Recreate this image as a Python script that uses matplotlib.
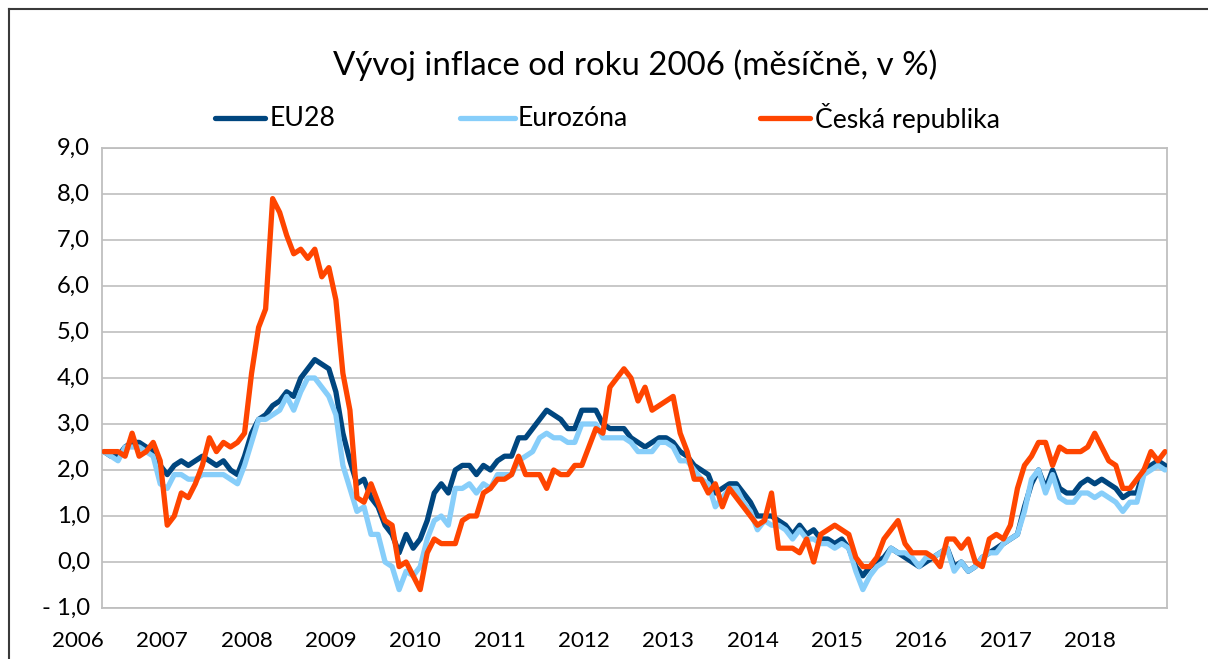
import matplotlib
matplotlib.use("Agg")
import matplotlib.pyplot as plt
from matplotlib.lines import Line2D
import numpy as np

# ---------------- data (monthly, Jan 2006 - Aug 2018) ----------------
series_names = ["EU28", "Eurozóna", "Česká republika"]
year_labels = [str(y) for y in range(2006, 2019)]

eu28 = [
    2.4, 2.3, 2.3, 2.5, 2.6, 2.6, 2.5, 2.4, 2.1, 1.9, 2.1, 2.2,   # 2006
    2.1, 2.2, 2.3, 2.2, 2.1, 2.2, 2.0, 1.9, 2.3, 2.8, 3.1, 3.2,   # 2007
    3.4, 3.5, 3.7, 3.6, 4.0, 4.2, 4.4, 4.3, 4.2, 3.7, 2.8, 2.2,   # 2008
    1.7, 1.8, 1.4, 1.2, 0.8, 0.6, 0.2, 0.6, 0.3, 0.5, 0.9, 1.5,   # 2009
    1.7, 1.5, 2.0, 2.1, 2.1, 1.9, 2.1, 2.0, 2.2, 2.3, 2.3, 2.7,   # 2010
    2.7, 2.9, 3.1, 3.3, 3.2, 3.1, 2.9, 2.9, 3.3, 3.3, 3.3, 3.0,   # 2011
    2.9, 2.9, 2.9, 2.7, 2.6, 2.5, 2.6, 2.7, 2.7, 2.6, 2.4, 2.3,   # 2012
    2.1, 2.0, 1.9, 1.5, 1.6, 1.7, 1.7, 1.5, 1.3, 1.0, 1.0, 1.0,   # 2013
    0.9, 0.8, 0.6, 0.8, 0.6, 0.7, 0.5, 0.5, 0.4, 0.5, 0.3, -0.1,  # 2014
    -0.3, -0.1, 0.0, 0.1, 0.3, 0.2, 0.1, 0.0, -0.1, 0.0, 0.1, 0.2,  # 2015
    0.3, -0.1, 0.0, -0.2, -0.1, 0.1, 0.2, 0.3, 0.4, 0.5, 0.6, 1.2,  # 2016
    1.7, 2.0, 1.6, 2.0, 1.6, 1.5, 1.5, 1.7, 1.8, 1.7, 1.8, 1.7,   # 2017
    1.6, 1.4, 1.5, 1.5, 2.0, 2.1, 2.2, 2.1,                       # 2018
]

eurozona = [
    2.4, 2.3, 2.2, 2.5, 2.5, 2.5, 2.4, 2.3, 1.7, 1.6, 1.9, 1.9,   # 2006
    1.8, 1.8, 1.9, 1.9, 1.9, 1.9, 1.8, 1.7, 2.1, 2.6, 3.1, 3.1,   # 2007
    3.2, 3.3, 3.6, 3.3, 3.7, 4.0, 4.0, 3.8, 3.6, 3.2, 2.1, 1.6,   # 2008
    1.1, 1.2, 0.6, 0.6, 0.0, -0.1, -0.6, -0.2, -0.3, -0.1, 0.5, 0.9,  # 2009
    1.0, 0.8, 1.6, 1.6, 1.7, 1.5, 1.7, 1.6, 1.9, 1.9, 1.9, 2.2,   # 2010
    2.3, 2.4, 2.7, 2.8, 2.7, 2.7, 2.6, 2.6, 3.0, 3.0, 3.0, 2.7,   # 2011
    2.7, 2.7, 2.7, 2.6, 2.4, 2.4, 2.4, 2.6, 2.6, 2.5, 2.2, 2.2,   # 2012
    2.0, 1.8, 1.7, 1.2, 1.4, 1.6, 1.6, 1.3, 1.1, 0.7, 0.9, 0.8,   # 2013
    0.8, 0.7, 0.5, 0.7, 0.5, 0.5, 0.4, 0.4, 0.3, 0.4, 0.3, -0.2,  # 2014
    -0.6, -0.3, -0.1, 0.0, 0.3, 0.2, 0.2, 0.1, -0.1, 0.1, 0.1, 0.2,  # 2015
    0.3, -0.2, 0.0, -0.2, -0.1, 0.1, 0.2, 0.2, 0.4, 0.5, 0.6, 1.1,  # 2016
    1.8, 2.0, 1.5, 1.9, 1.4, 1.3, 1.3, 1.5, 1.5, 1.4, 1.5, 1.4,   # 2017
    1.3, 1.1, 1.3, 1.3, 1.9, 2.0, 2.1, 2.0,                       # 2018
]

ceska_republika = [
    2.4, 2.4, 2.4, 2.3, 2.8, 2.3, 2.4, 2.6, 2.2, 0.8, 1.0, 1.5,   # 2006
    1.4, 1.7, 2.1, 2.7, 2.4, 2.6, 2.5, 2.6, 2.8, 4.1, 5.1, 5.5,   # 2007
    7.9, 7.6, 7.1, 6.7, 6.8, 6.6, 6.8, 6.2, 6.4, 5.7, 4.1, 3.3,   # 2008
    1.4, 1.3, 1.7, 1.3, 0.9, 0.8, -0.1, 0.0, -0.3, -0.6, 0.2, 0.5,  # 2009
    0.4, 0.4, 0.4, 0.9, 1.0, 1.0, 1.5, 1.6, 1.8, 1.8, 1.9, 2.3,   # 2010
    1.9, 1.9, 1.9, 1.6, 2.0, 1.9, 1.9, 2.1, 2.1, 2.5, 2.9, 2.8,   # 2011
    3.8, 4.0, 4.2, 4.0, 3.5, 3.8, 3.3, 3.4, 3.5, 3.6, 2.8, 2.4,   # 2012
    1.8, 1.8, 1.5, 1.7, 1.2, 1.6, 1.4, 1.2, 1.0, 0.8, 0.9, 1.5,   # 2013
    0.3, 0.3, 0.3, 0.2, 0.5, 0.0, 0.6, 0.7, 0.8, 0.7, 0.6, 0.1,   # 2014
    -0.1, -0.1, 0.1, 0.5, 0.7, 0.9, 0.4, 0.2, 0.2, 0.2, 0.1, -0.1,  # 2015
    0.5, 0.5, 0.3, 0.5, 0.0, -0.1, 0.5, 0.6, 0.5, 0.8, 1.6, 2.1,  # 2016
    2.3, 2.6, 2.6, 2.1, 2.5, 2.4, 2.4, 2.4, 2.5, 2.8, 2.5, 2.2,   # 2017
    2.1, 1.6, 1.6, 1.8, 2.0, 2.4, 2.2, 2.4,                       # 2018
]

y_ticks = [-1, 0, 1, 2, 3, 4, 5, 6, 7, 8, 9]
colors = ["#00467F", "#87CEFA", "#FF4500"]

# ---------------- figure ----------------
W, H, DPI = 1208, 659, 100
FONT = ["Lato", "DejaVu Sans"]
plt.rcParams["font.family"] = FONT

fig = plt.figure(figsize=(W / DPI, H / DPI), dpi=DPI)
fig.patch.set_facecolor("white")


def fx(px):
    return px / W


def fy(py):
    return 1 - py / H


# plot area (pixel box 102..1167 x 148..608)
L, R, T, B = 102, 1167, 148, 608
ax = fig.add_axes([fx(L), fy(B), fx(R) - fx(L), fy(T) - fy(B)])

x = np.arange(len(eu28))
step = (1165 - 104) / (len(eu28) - 1)  # px per month
ax.set_xlim(-(104 - L) / step, (len(eu28) - 1) + (R - 1165) / step)
ax.set_ylim(-1, 9)

for vals, col in zip([eu28, eurozona, ceska_republika], colors):
    ax.plot(x, vals, color=col, lw=3.8, solid_joinstyle="round",
            solid_capstyle="round", zorder=3)

ax.set_yticks(y_ticks)
ax.yaxis.grid(True, color="#BFBFBF", lw=1.2, zorder=0)
ax.set_axisbelow(True)
ax.set_xticks([])
for s in ax.spines.values():
    s.set_color("#BFBFBF")
    s.set_linewidth(1.3)
ax.tick_params(axis="y", length=0, pad=0)
ax.set_yticklabels([])

renderer = fig.canvas.get_renderer()


def fit(t, target):
    w = t.get_window_extent(renderer).width
    t.set_fontsize(t.get_fontsize() * target / w)


def fmt(v):
    s = f"{abs(v):.1f}".replace(".", ",")
    return ("- " + s) if v < 0 else s


# y tick labels drawn as text
probe = fig.text(0, 0, "9,0", fontsize=18)
fit(probe, 33)
tick_fs = probe.get_fontsize()
probe.remove()
for v in y_ticks:
    py = T + (9 - v) * (B - T) / 10
    fig.text(fx(90), fy(py), fmt(v), ha="right", va="center",
             fontsize=tick_fs, color="#000000")

# x (year) labels
probe = fig.text(0, 0, "2006", fontsize=18)
fit(probe, 52)
xfs = probe.get_fontsize()
probe.remove()
for k, lab in enumerate(year_labels):
    idx = 12 * k - 3.7
    px = 104 + idx * step
    fig.text(fx(px), fy(641), lab, ha="center", va="center",
             fontsize=xfs, color="#000000")

# title
title = fig.text(fx(635), fy(65), "Vývoj inflace od roku 2006 (měsíčně, v %)",
                 ha="center", va="center", fontsize=26, color="#000000")
fit(title, 604)

# legend
leg_lines = [(215, 265), (460, 515), (760, 810)]
leg_text_x = [270, 518, 815]
probe = fig.text(0, 0, series_names[2], fontsize=18)
fit(probe, 185)
lfs = probe.get_fontsize()
probe.remove()
for (x0, x1), tx, name, col in zip(leg_lines, leg_text_x, series_names, colors):
    fig.add_artist(Line2D([fx(x0), fx(x1)], [fy(118), fy(118)], color=col,
                          lw=3.8, solid_capstyle="round",
                          transform=fig.transFigure))
    fig.text(fx(tx), fy(118), name, ha="left", va="center",
             fontsize=lfs, color="#000000")

# outer chart border (top and left visible)
fig.add_artist(Line2D([fx(9), fx(1208)], [fy(9), fy(9)], color="#3a3a3a",
                      lw=1.5, transform=fig.transFigure))
fig.add_artist(Line2D([fx(9), fx(9)], [fy(9), fy(659)], color="#3a3a3a",
                      lw=1.5, transform=fig.transFigure))

fig.savefig("out.png", dpi=DPI, facecolor="white")
